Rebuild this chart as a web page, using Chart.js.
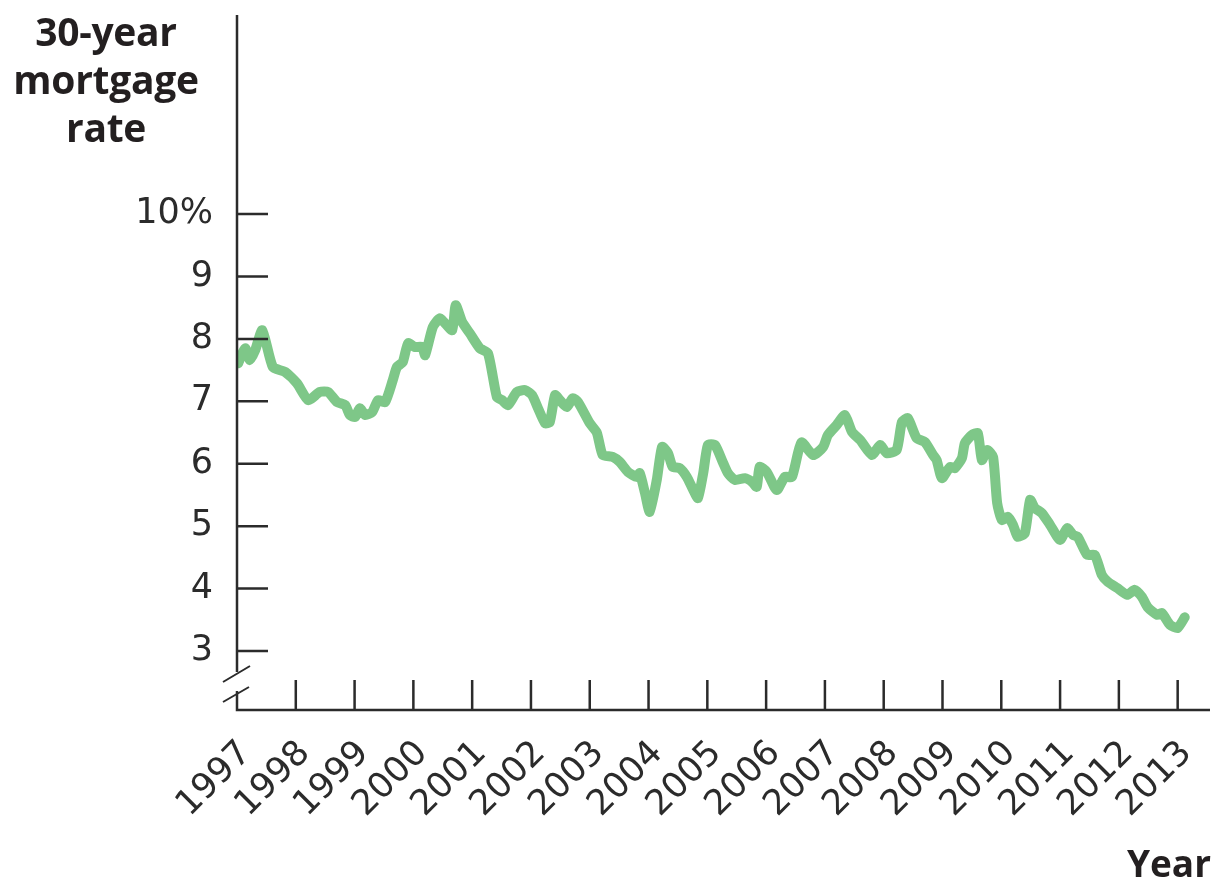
<!DOCTYPE html>
<html>
<head>
<meta charset="utf-8">
<script src="https://cdn.jsdelivr.net/npm/chart.js@4.4.1/dist/chart.umd.min.js"></script>
<style>
  html, body { margin: 0; padding: 0; background: #fff; }
  #wrap { position: relative; width: 1214px; height: 886px; }
  canvas { position: absolute; left: 0; top: 0; }
  .axis-title {
    position: absolute;
    font-family: "Open Sans", sans-serif;
    font-weight: 700;
    color: #231f20;
  }
  #yTitle { left: 0; top: 7px; width: 212px; text-align: center; font-size: 39px; line-height: 48px; letter-spacing: -0.3px; }
  #xTitle { right: 3px; top: 839px; font-size: 37px; line-height: 48px; }
</style>
</head>
<body>
<div id="wrap">
  <canvas id="chart" width="1214" height="886"></canvas>
  <div id="yTitle" class="axis-title">30-year<br>mortgage<br>rate</div>
  <div id="xTitle" class="axis-title">Year</div>
</div>
<script>
// 30-year mortgage rate, percent, sampled through each year
const years = [
  1997.02, 1997.14, 1997.22, 1997.31, 1997.43, 1997.61, 1997.82,
  1998.02, 1998.21, 1998.41, 1998.55, 1998.70, 1998.84, 1998.92,
  1999.01, 1999.09, 1999.18, 1999.30, 1999.40, 1999.52, 1999.65, 1999.72, 1999.82, 1999.91,
  2000.03, 2000.15, 2000.20, 2000.33, 2000.45, 2000.54, 2000.66, 2000.72, 2000.83, 2000.96,
  2001.13, 2001.27, 2001.42, 2001.51, 2001.61, 2001.76, 2001.90,
  2002.02, 2002.12, 2002.24, 2002.32, 2002.41, 2002.49, 2002.61, 2002.71, 2002.80,
  2003.00, 2003.12, 2003.22, 2003.39, 2003.51, 2003.65, 2003.80, 2003.85, 2003.94,
  2004.02, 2004.14, 2004.23, 2004.33, 2004.41, 2004.53, 2004.65, 2004.76, 2004.84, 2004.93,
  2005.01, 2005.13, 2005.27, 2005.35, 2005.47, 2005.64, 2005.76, 2005.84, 2005.89,
  2006.01, 2006.18, 2006.32, 2006.44, 2006.60, 2006.80, 2006.97,
  2007.05, 2007.20, 2007.34, 2007.46, 2007.60, 2007.80, 2007.94,
  2008.05, 2008.22, 2008.31, 2008.41, 2008.56, 2008.70, 2008.84, 2008.90, 2008.99,
  2009.13, 2009.21, 2009.33, 2009.38, 2009.50, 2009.60, 2009.67, 2009.76, 2009.86, 2009.93,
  2010.01, 2010.11, 2010.20, 2010.28, 2010.40, 2010.49, 2010.57, 2010.69, 2010.83,
  2011.00, 2011.12, 2011.22, 2011.30, 2011.46, 2011.59, 2011.71, 2011.81, 2011.97,
  2012.14, 2012.27, 2012.39, 2012.49, 2012.65, 2012.73, 2012.87,
  2013.00, 2013.12
];
const rates = [
  7.61, 7.85, 7.66, 7.82, 8.14, 7.55, 7.47,
  7.29, 7.02, 7.15, 7.15, 6.99, 6.94, 6.78,
  6.75, 6.89, 6.78, 6.83, 7.02, 6.99, 7.34, 7.55, 7.63, 7.93,
  7.87, 7.87, 7.74, 8.19, 8.33, 8.25, 8.14, 8.54, 8.27, 8.09,
  7.85, 7.77, 7.07, 7.02, 6.94, 7.15, 7.18,
  7.10, 6.89, 6.65, 6.67, 7.10, 7.02, 6.91, 7.05, 6.99,
  6.65, 6.50, 6.14, 6.11, 6.03, 5.87, 5.79, 5.85, 5.53,
  5.23, 5.74, 6.27, 6.17, 5.95, 5.93, 5.79, 5.58, 5.45, 5.85,
  6.30, 6.30, 6.01, 5.85, 5.74, 5.77, 5.71, 5.63, 5.95,
  5.87, 5.58, 5.79, 5.79, 6.34, 6.14, 6.27,
  6.46, 6.62, 6.78, 6.51, 6.38, 6.14, 6.30,
  6.17, 6.22, 6.67, 6.73, 6.41, 6.35, 6.14, 6.06, 5.77,
  5.95, 5.93, 6.09, 6.33, 6.46, 6.49, 6.06, 6.22, 6.11, 5.37,
  5.10, 5.15, 5.02, 4.83, 4.89, 5.42, 5.29, 5.21, 5.02,
  4.78, 4.97, 4.86, 4.83, 4.54, 4.54, 4.22, 4.11, 4.01,
  3.90, 3.98, 3.87, 3.70, 3.58, 3.61, 3.42,
  3.37, 3.54
];
const yearTicks = [1997, 1998, 1999, 2000, 2001, 2002, 2003, 2004, 2005,
  2006, 2007, 2008, 2009, 2010, 2011, 2012, 2013];
const rateTicks = [3, 4, 5, 6, 7, 8, 9, 10];

const ink = '#2b2b2b';
const tickFont = { family: '"DejaVu Sans", sans-serif', size: 35 };

// axis lines, inward tick marks and the broken-axis slashes
const axisPlugin = {
  id: 'axisMarks',
  afterDraw(chart) {
    const { ctx, chartArea: a, scales: { x, y } } = chart;
    ctx.save();
    ctx.strokeStyle = ink;
    ctx.lineWidth = 2.5;
    ctx.lineCap = 'butt';
    const gapTop = a.bottom - 38, gapBottom = a.bottom - 19;
    ctx.beginPath();
    ctx.moveTo(a.left, a.top);
    ctx.lineTo(a.left, gapTop);
    ctx.moveTo(a.left, gapBottom);
    ctx.lineTo(a.left, a.bottom);
    ctx.lineTo(a.right, a.bottom);
    rateTicks.forEach(v => {
      const py = y.getPixelForValue(v);
      ctx.moveTo(a.left, py);
      ctx.lineTo(a.left + 31, py);
    });
    yearTicks.slice(1).forEach(v => {
      const px = x.getPixelForValue(v);
      ctx.moveTo(px, a.bottom);
      ctx.lineTo(px, a.bottom - 30);
    });
    ctx.stroke();
    ctx.lineWidth = 2;
    ctx.beginPath();
    ctx.moveTo(a.left - 14, gapTop + 10);
    ctx.lineTo(a.left + 13, gapTop - 6);
    ctx.moveTo(a.left - 14, gapBottom + 11);
    ctx.lineTo(a.left + 12, gapBottom - 4);
    ctx.stroke();
    ctx.restore();
  }
};

// keep the plot box exactly where the layout padding puts it
const noEdgePadding = s => {
  s.paddingTop = 0;
  s.paddingBottom = 0;
  s.paddingLeft = 0;
  s.paddingRight = 0;
};

new Chart(document.getElementById('chart'), {
  type: 'line',
  data: {
    datasets: [{
      data: years.map((yr, i) => ({ x: yr, y: rates[i] })),
      borderColor: 'rgb(126, 199, 136)',
      borderWidth: 10,
      borderJoinStyle: 'round',
      borderCapStyle: 'round',
      pointRadius: 0,
      tension: 0.2,
      fill: false
    }]
  },
  options: {
    responsive: false,
    animation: false,
    layout: { padding: { top: 15, right: 4, left: 0, bottom: 0 } },
    plugins: { legend: { display: false }, tooltip: { enabled: false } },
    scales: {
      x: {
        type: 'linear',
        min: 1997,
        max: 2013.55,
        afterBuildTicks: s => { s.ticks = yearTicks.map(v => ({ value: v })); },
        afterFit: s => { s.height = 176; noEdgePadding(s); },
        grid: { display: false, drawTicks: false },
        border: { display: false },
        ticks: {
          callback: v => String(v),
          minRotation: 45,
          maxRotation: 45,
          autoSkip: false,
          padding: 23,
          labelOffset: 9,
          color: ink,
          font: tickFont
        }
      },
      y: {
        min: 2.055,
        max: 13.19,
        afterBuildTicks: s => { s.ticks = rateTicks.map(v => ({ value: v })); },
        afterFit: s => { s.width = 237; noEdgePadding(s); },
        grid: { display: false, drawTicks: false },
        border: { display: false },
        ticks: {
          callback: v => (v === 10 ? '10%' : String(v)),
          padding: 24,
          color: ink,
          font: tickFont
        }
      }
    }
  },
  plugins: [axisPlugin]
});
</script>
</body>
</html>
